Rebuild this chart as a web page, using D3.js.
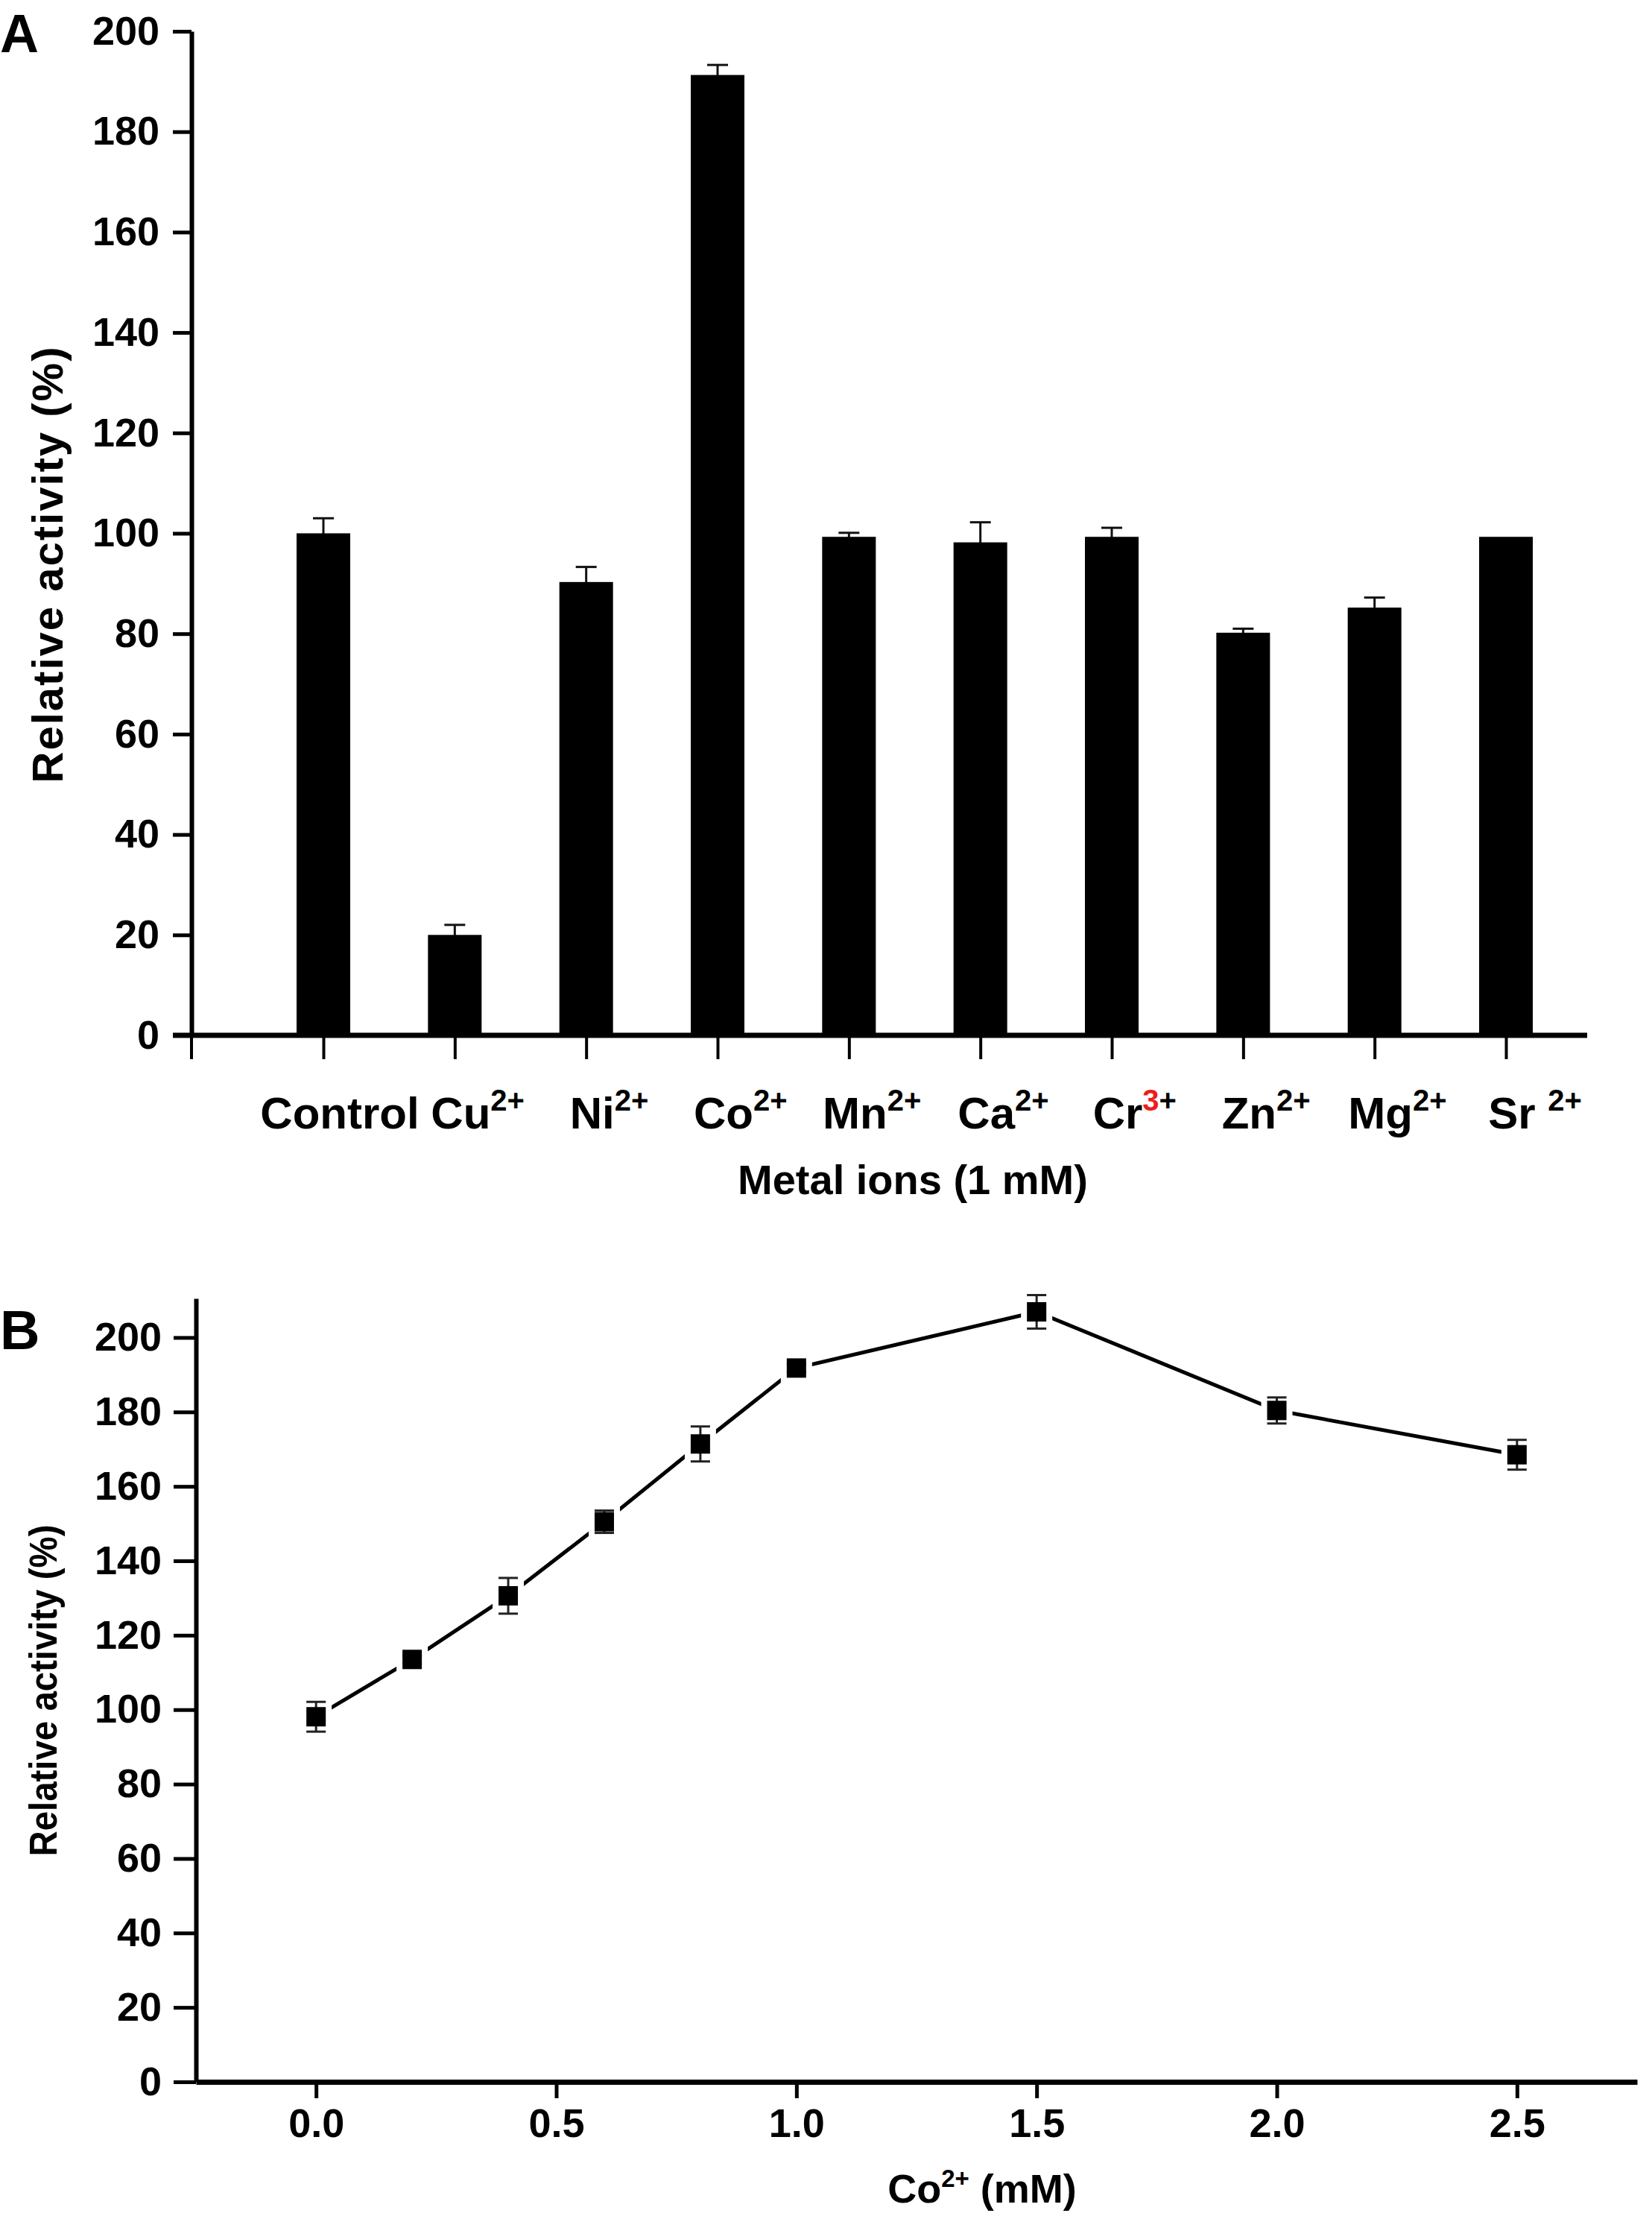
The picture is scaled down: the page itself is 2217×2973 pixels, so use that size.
<!DOCTYPE html>
<html>
<head>
<meta charset="utf-8">
<title>Relative activity</title>
<script src="https://cdn.jsdelivr.net/npm/d3@7"></script>
<style>
  body { margin: 0; background: #fff; }
  text { font-family: "Liberation Sans", Arial, sans-serif; font-weight: bold; fill: #000; }
  .axis path, .axis line { stroke: #000; }
</style>
</head>
<body>
<div id="chart"></div>
<script>
// panel A: metal ions at 1 mM
var ions = ["Control", "Cu", "Ni", "Co", "Mn", "Ca", "Cr", "Zn", "Mg", "Sr "];
var ionCharge = ["", "2+", "2+", "2+", "2+", "2+", "3+", "2+", "2+", "2+"];
var ionActivity = [100, 20, 90.3, 191.3, 99.3, 98.2, 99.3, 80.2, 85.2, 99.3];
var ionError = [3, 2, 3, 2, 0.8, 4, 1.8, 0.8, 2, 0];
var redCharge = ["Cr"];   // charge digit printed in red
var yTicksA = [0, 20, 40, 60, 80, 100, 120, 140, 160, 180, 200];

// panel B: Co2+ concentration series
var cobalt = [0, 0.2, 0.4, 0.6, 0.8, 1.0, 1.5, 2.0, 2.5];
var cobaltActivity = [98.1, 113.5, 130.6, 150.5, 171.4, 191.8, 206.9, 180.4, 168.5];
var cobaltError = [4, 1, 4.8, 3, 4.7, 1, 4.5, 3.5, 4];
var yTicksB = [0, 20, 40, 60, 80, 100, 120, 140, 160, 180, 200];
var xTicksB = [0, 0.5, 1.0, 1.5, 2.0, 2.5];

var W = 2217, H = 2973;

var svg = d3.select("#chart").append("svg")
    .attr("width", W)
    .attr("height", H);

// ---------- A ----------
var a = { left: 257, right: 2130, top: 42, bottom: 1389 };
var yA = d3.scaleLinear().domain([0, 200]).range([a.bottom, a.top]);
var xA = d3.scalePoint().domain(ions).range([434, 2021]);
var barW = 72;

var rowsA = ions.map(function(d, i) {
    return { name: d, charge: ionCharge[i], value: ionActivity[i], err: ionError[i] };
});

var gA = svg.append("g");

// error bars (drawn first, the bar hides the lower half)
var errA = gA.selectAll("g.err").data(rowsA.filter(function(d) { return d.err > 0; }))
    .enter().append("g").attr("class", "err")
    .attr("stroke", "#111").attr("stroke-width", 3);
errA.append("line")
    .attr("x1", function(d) { return xA(d.name); })
    .attr("x2", function(d) { return xA(d.name); })
    .attr("y1", function(d) { return yA(d.value - d.err); })
    .attr("y2", function(d) { return yA(d.value + d.err); });
errA.append("line")
    .attr("x1", function(d) { return xA(d.name) - 14; })
    .attr("x2", function(d) { return xA(d.name) + 14; })
    .attr("y1", function(d) { return yA(d.value + d.err); })
    .attr("y2", function(d) { return yA(d.value + d.err); });

gA.selectAll("rect.bar").data(rowsA).enter().append("rect")
    .attr("class", "bar")
    .attr("x", function(d) { return xA(d.name) - barW / 2; })
    .attr("y", function(d) { return yA(d.value); })
    .attr("width", barW)
    .attr("height", function(d) { return yA(0) - yA(d.value); })
    .attr("fill", "#000");

// y axis
var yAxisA = gA.append("g").attr("class", "axis")
    .attr("transform", "translate(" + a.left + ",0)")
    .call(d3.axisLeft(yA).tickValues(yTicksA).tickSize(25).tickSizeOuter(0).tickPadding(18));
yAxisA.select(".domain").attr("stroke-width", 6);
yAxisA.selectAll(".tick line").attr("stroke-width", 5);
yAxisA.selectAll(".tick text").attr("font-size", 54).attr("font-family", null);

// x axis: line from the y axis to the right end, ticks under every bar
var xAxisA = gA.append("g").attr("class", "axis")
    .attr("transform", "translate(0," + a.bottom + ")")
    .call(d3.axisBottom(xA).tickSize(32).tickSizeOuter(0).tickFormat(""));
xAxisA.select(".domain").remove();
xAxisA.selectAll(".tick line").attr("stroke-width", 4);
xAxisA.append("line")
    .attr("x1", a.left - 25).attr("x2", a.right)
    .attr("stroke", "#000").attr("stroke-width", 7);
xAxisA.append("line")
    .attr("x1", a.left).attr("x2", a.left).attr("y1", 0).attr("y2", 32)
    .attr("stroke", "#000").attr("stroke-width", 4);

// category labels: the element symbol sits on the tick, the charge hangs to the right
var labA = gA.selectAll("text.cat").data(rowsA).enter().append("text")
    .attr("class", "cat")
    .attr("y", 1514)
    .attr("font-size", 60)
    .text(function(d) { return d.name; })
    .each(function(d) {
        var t = d3.select(this);
        var w = this.getComputedTextLength();
        var shift = d.charge ? 8 : 22;
        t.attr("x", xA(d.name) + shift - w / 2);
        if (!d.charge) return;
        var red = redCharge.indexOf(d.name) >= 0;
        t.append("tspan").attr("font-size", 40).attr("dy", -24)
            .style("fill", red ? "#ee1c1c" : null)
            .text(red ? d.charge.charAt(0) : d.charge);
        if (red) t.append("tspan").attr("font-size", 40).text(d.charge.slice(1));
    });

gA.append("text")
    .attr("x", 1225).attr("y", 1602)
    .attr("text-anchor", "middle")
    .attr("font-size", 56)
    .text("Metal ions (1 mM)");

gA.append("text")
    .attr("transform", "translate(84,758) rotate(-90)")
    .attr("text-anchor", "middle")
    .attr("font-size", 58)
    .attr("textLength", 585)
    .text("Relative activity (%)");

svg.append("text").attr("x", 0).attr("y", 70).attr("font-size", 72).text("A");

// ---------- B ----------
var b = { left: 263, right: 2197, top: 1742, bottom: 2793 };
var yB = d3.scaleLinear().domain([0, 210.5]).range([b.bottom, b.top]);
var xB = d3.scaleLinear().domain([-0.25, 2.75]).range([b.left, b.right]);

var rowsB = cobalt.map(function(d, i) {
    return { x: d, value: cobaltActivity[i], err: cobaltError[i] };
});

var gB = svg.append("g");

var yAxisB = gB.append("g").attr("class", "axis")
    .attr("transform", "translate(" + b.left + ",0)")
    .call(d3.axisLeft(yB).tickValues(yTicksB).tickSize(30).tickSizeOuter(0).tickPadding(16));
yAxisB.select(".domain").attr("stroke-width", 6);
yAxisB.selectAll(".tick line").attr("stroke-width", 5);
yAxisB.selectAll(".tick text").attr("font-size", 54).attr("font-family", null);

var xAxisB = gB.append("g").attr("class", "axis")
    .attr("transform", "translate(0," + b.bottom + ")")
    .call(d3.axisBottom(xB).tickValues(xTicksB).tickSize(22).tickSizeOuter(0).tickPadding(14)
        .tickFormat(d3.format(".1f")));
xAxisB.select(".domain").attr("stroke-width", 7);
xAxisB.selectAll(".tick line").attr("stroke-width", 5);
xAxisB.selectAll(".tick text").attr("font-size", 54).attr("font-family", null);

var line = d3.line()
    .x(function(d) { return xB(d.x); })
    .y(function(d) { return yB(d.value); });

gB.append("path").datum(rowsB)
    .attr("d", line)
    .attr("fill", "none")
    .attr("stroke", "#000")
    .attr("stroke-width", 5);

var ms = 26;
// white halo so the line stops short of each marker
gB.selectAll("rect.halo").data(rowsB).enter().append("rect")
    .attr("class", "halo")
    .attr("x", function(d) { return xB(d.x) - ms / 2 - 8; })
    .attr("y", function(d) { return yB(d.value) - ms / 2 - 8; })
    .attr("width", ms + 16).attr("height", ms + 16)
    .attr("fill", "#fff");

var errB = gB.selectAll("g.err").data(rowsB).enter().append("g")
    .attr("class", "err").attr("stroke", "#222").attr("stroke-width", 3);
errB.append("line")
    .attr("x1", function(d) { return xB(d.x); })
    .attr("x2", function(d) { return xB(d.x); })
    .attr("y1", function(d) { return yB(d.value - d.err); })
    .attr("y2", function(d) { return yB(d.value + d.err); });
[1, -1].forEach(function(s) {
    errB.append("line")
        .attr("x1", function(d) { return xB(d.x) - 13; })
        .attr("x2", function(d) { return xB(d.x) + 13; })
        .attr("y1", function(d) { return yB(d.value + s * d.err); })
        .attr("y2", function(d) { return yB(d.value + s * d.err); });
});

gB.selectAll("rect.pt").data(rowsB).enter().append("rect")
    .attr("class", "pt")
    .attr("x", function(d) { return xB(d.x) - ms / 2; })
    .attr("y", function(d) { return yB(d.value) - ms / 2; })
    .attr("width", ms).attr("height", ms)
    .attr("fill", "#000");

var xtB = gB.append("text")
    .attr("x", 1318).attr("y", 2955)
    .attr("text-anchor", "middle")
    .attr("font-size", 54)
    .text("Co");
xtB.append("tspan").attr("font-size", 33).attr("dy", -21).text("2+");
xtB.append("tspan").attr("dy", 21).text(" (mM)");

gB.append("text")
    .attr("transform", "translate(76,2268) rotate(-90)")
    .attr("text-anchor", "middle")
    .attr("font-size", 52)
    .attr("textLength", 445)
    .attr("lengthAdjust", "spacingAndGlyphs")
    .text("Relative activity (%)");

svg.append("text").attr("x", 0).attr("y", 1810).attr("font-size", 74).text("B");
</script>
</body>
</html>
